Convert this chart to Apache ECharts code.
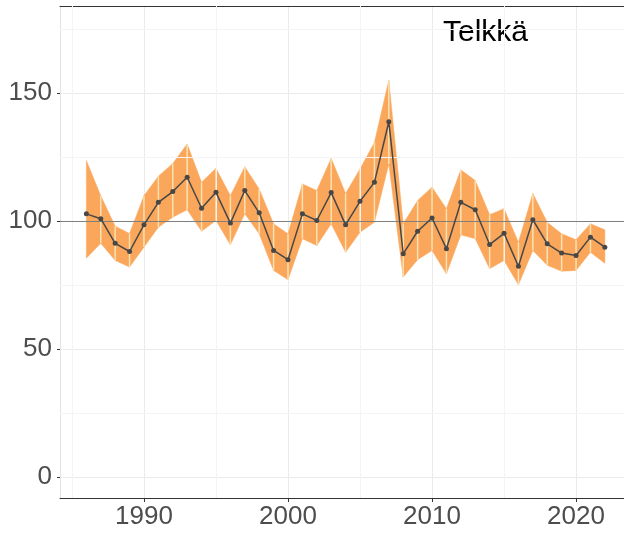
<!DOCTYPE html>
<html>
<head>
<meta charset="utf-8">
<script src="https://cdn.jsdelivr.net/npm/echarts@6/dist/echarts.min.js"></script>
<style>
  html, body { margin: 0; padding: 0; background: #fff; }
  #chart { width: 624px; height: 535px; }
</style>
</head>
<body>
<div id="chart"></div>
<script>
// data
const years = [1986, 1987, 1988, 1989, 1990, 1991, 1992, 1993, 1994, 1995, 1996, 1997, 1998, 1999, 2000,
  2001, 2002, 2003, 2004, 2005, 2006, 2007, 2008, 2009, 2010, 2011, 2012, 2013, 2014, 2015, 2016,
  2017, 2018, 2019, 2020, 2021, 2022];
const index = [102.8, 100.9, 91.3, 88.1, 98.5, 107.3, 111.5, 117.1, 105.0, 111.2, 99.2, 111.9, 103.2, 88.5, 84.9,
  102.8, 100.2, 111.1, 98.5, 107.7, 115.1, 138.8, 87.2, 96.0, 101.2, 89.2, 107.3, 104.4, 90.8, 95.2, 82.3,
  100.5, 91.1, 87.5, 86.5, 93.7, 89.8];
const upper = [123.6, 109.9, 98.0, 95.1, 109.9, 117.5, 122.5, 130.1, 115.1, 120.6, 109.9, 121.2, 112.5, 98.9, 95.0,
  114.5, 111.9, 124.5, 110.8, 120.3, 130.7, 155.0, 98.9, 108.0, 113.2, 104.8, 120.0, 115.8, 102.5, 104.8, 91.7,
  110.8, 99.5, 95.0, 92.7, 98.9, 96.6];
const lower = [85.5, 91.3, 84.6, 82.0, 89.8, 97.6, 101.5, 104.4, 96.0, 100.2, 90.7, 102.8, 95.0, 80.7, 77.1,
  93.1, 90.4, 98.9, 87.8, 95.6, 99.5, 122.3, 78.1, 84.9, 88.5, 79.4, 94.6, 93.1, 81.4, 84.6, 75.1,
  88.5, 82.7, 80.4, 80.7, 87.8, 83.5];

const refValue = 100;
const xTicks = [1990, 2000, 2010, 2020];
const xMinor = [1985, 1995, 2005, 2015];
const yTicks = [0, 50, 100, 150];
const yMinor = [25, 75, 125, 175];
const title = 'Telkkä';

const labelFont = { fontFamily: 'Liberation Sans', fontSize: 26, color: '#4d4d4d' };

// band segments between consecutive years
const bandSegs = years.slice(0, -1).map((y, i) =>
  [y, lower[i], upper[i], years[i + 1], lower[i + 1], upper[i + 1]]);
// light dividers at inner years
const dividers = years.map((y, i) => [y, lower[i], upper[i]]).slice(1, -1);

const chart = echarts.init(document.getElementById('chart'), null, { renderer: 'canvas' });

chart.setOption({
  animation: false,
  backgroundColor: '#fff',
  grid: { left: 60, right: 0, top: 6, bottom: 37 },
  xAxis: [{
    type: 'value',
    min: 1984.17,
    max: 2023.33,
    axisLine: { show: true, onZero: false, lineStyle: { color: '#333', width: 1 } },
    axisTick: { show: true, length: 4, lineStyle: { color: '#333' }, customValues: xTicks },
    axisLabel: { ...labelFont, margin: 6, customValues: xTicks, formatter: v => String(v) },
    splitLine: { show: true, lineStyle: { color: '#ebebeb', width: 1 } }
  }, {
    type: 'value',
    position: 'top',
    min: 1984.17,
    max: 2023.33,
    axisLine: { show: true, onZero: false, lineStyle: { color: '#333', width: 1 } },
    axisTick: { show: false },
    axisLabel: { show: false },
    splitLine: { show: false }
  }],
  yAxis: {
    type: 'value',
    min: -8.2,
    max: 184,
    axisLine: { show: true, onZero: false, lineStyle: { color: '#e3e3e3', width: 1 } },
    axisTick: { show: true, length: 3, lineStyle: { color: '#333' }, customValues: yTicks },
    axisLabel: { ...labelFont, margin: 8, customValues: yTicks },
    splitLine: { show: true, lineStyle: { color: '#ebebeb', width: 1 } }
  },
  graphic: [{
    type: 'text',
    left: 443,
    top: 18,
    style: { text: title, font: '30px "Liberation Sans"', fill: '#000' }
  }],
  series: [
    {
      // minor grid lines
      type: 'line',
      data: [],
      silent: true,
      z: 0,
      markLine: {
        silent: true,
        symbol: 'none',
        label: { show: false },
        lineStyle: { color: '#f4f4f4', width: 1, type: 'solid' },
        data: yMinor.map(v => ({ yAxis: v })).concat(xMinor.map(v => ({ xAxis: v })))
      }
    },
    {
      type: 'custom',
      z: 2,
      silent: true,
      data: bandSegs,
      renderItem: (params, api) => {
        const a = api.coord([api.value(0), api.value(2)]);
        const b = api.coord([api.value(3), api.value(5)]);
        const c = api.coord([api.value(3), api.value(4)]);
        const d = api.coord([api.value(0), api.value(1)]);
        return {
          type: 'polygon',
          shape: { points: [a, b, c, d] },
          style: { fill: '#faa75b', stroke: '#faa75b', lineWidth: 0.5 }
        };
      }
    },
    {
      type: 'custom',
      z: 3,
      silent: true,
      data: dividers,
      renderItem: (params, api) => {
        const top = api.coord([api.value(0), api.value(2)]);
        const bot = api.coord([api.value(0), api.value(1)]);
        return {
          type: 'line',
          shape: { x1: top[0], y1: top[1], x2: bot[0], y2: bot[1] },
          style: { stroke: '#f8e2b4', lineWidth: 1.5 }
        };
      }
    },
    {
      // reference line at 100
      type: 'line',
      data: [],
      z: 4,
      silent: true,
      markLine: {
        silent: true,
        symbol: 'none',
        label: { show: false },
        lineStyle: { color: '#7f7f7f', width: 1, type: 'solid' },
        data: [{ yAxis: refValue }]
      }
    },
    {
      type: 'line',
      z: 5,
      data: years.map((y, i) => [y, index[i]]),
      symbol: 'circle',
      symbolSize: 5,
      itemStyle: { color: '#474747' },
      lineStyle: { color: '#474747', width: 1.5 }
    }
  ]
});
</script>
</body>
</html>
